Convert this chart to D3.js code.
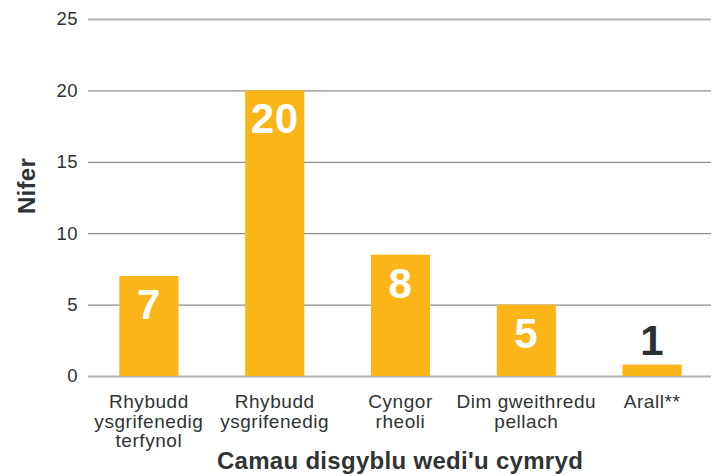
<!DOCTYPE html>
<html>
<head>
<meta charset="utf-8">
<script src="https://cdn.jsdelivr.net/npm/d3@7"></script>
<style>
    body { margin: 0; background: #fff; }
    svg { font-family: "Liberation Sans", Arial, Helvetica, sans-serif; }
</style>
</head>
<body>
<svg class="bar-chart"></svg>
<script>
// Daten
const categories = [
    ["Rhybudd", "ysgrifenedig", "terfynol"],
    ["Rhybudd", "ysgrifenedig"],
    ["Cyngor", "rheoli"],
    ["Dim gweithredu", "pellach"],
    ["Arall**"]
];
const values = [7, 20, 8.5, 5, 0.8];
const valueLabels = ["7", "20", "8", "5", "1"];
const yTicks = [0, 5, 10, 15, 20, 25];

const svgWidth = 715, svgHeight = 476;
const plotLeft = 86, plotRight = 715, plotTop = 19, plotBottom = 376;

const svg = d3.select(".bar-chart")
    .attr("width", svgWidth)
    .attr("height", svgHeight);

const x = d3.scaleBand()
    .domain(d3.range(categories.length))
    .range([plotLeft, plotRight])
    .paddingInner(0.53)
    .paddingOuter(0.265);

const y = d3.scaleLinear()
    .domain([0, 25])
    .range([plotBottom, plotTop]);

// Gitterlinien + Beschriftung
const yAxis = svg.append("g")
    .attr("transform", `translate(${plotLeft + 2},0)`)
    .call(d3.axisLeft(y).tickValues(yTicks).tickSize(-(711 - plotLeft - 2)).tickPadding(10));
yAxis.select(".domain").remove();
yAxis.selectAll(".tick line")
    .attr("stroke", d => (d === 0 || d === 25) ? "#b3b3b3" : "#8e8e8e")
    .attr("stroke-width", d => (d === 0 || d === 25) ? 2 : 1.3);
yAxis.selectAll(".tick text")
    .attr("font-size", 18.5)
    .attr("letter-spacing", 0.5)
    .attr("fill", "#2f3333")
    .attr("font-family", "Liberation Sans, Arial, sans-serif");

// Balken
svg.selectAll(".bar")
    .data(values)
    .enter()
    .append("rect")
    .attr("class", "bar")
    .attr("x", (d, i) => x(i))
    .attr("width", x.bandwidth())
    .attr("y", d => y(d))
    .attr("height", d => y(0) - y(d))
    .attr("fill", "#fbb519");

// Werte
svg.selectAll(".val")
    .data(values)
    .enter()
    .append("text")
    .attr("class", "val")
    .attr("x", (d, i) => x(i) + x.bandwidth() / 2)
    .attr("y", d => d < 3 ? y(d) - 10 : y(d) + 43)
    .attr("text-anchor", "middle")
    .attr("font-size", 42)
    .attr("letter-spacing", 0.5)
    .attr("font-weight", "bold")
    .attr("fill", d => d < 3 ? "#2b3030" : "#fff")
    .text((d, i) => valueLabels[i]);

// Kategorien (eine Zeile pro text-Element)
categories.forEach((lines, i) => {
    svg.selectAll(".cat" + i)
        .data(lines)
        .enter()
        .append("text")
        .attr("class", "cat" + i)
        .attr("x", x(i) + x.bandwidth() / 2)
        .attr("y", (d, j) => 408 + j * 19.5)
        .attr("text-anchor", "middle")
        .attr("font-size", 19)
        .attr("letter-spacing", 0.55)
        .attr("fill", "#2f3333")
        .text(d => d);
});

// Achsentitel
svg.append("text")
    .attr("x", 400)
    .attr("y", 469)
    .attr("text-anchor", "middle")
    .attr("font-size", 24)
    .attr("letter-spacing", 0.3)
    .attr("font-weight", "bold")
    .attr("fill", "#2f3333")
    .text("Camau disgyblu wedi'u cymryd");

svg.append("text")
    .attr("transform", "translate(35,186) rotate(-90)")
    .attr("text-anchor", "middle")
    .attr("font-size", 24)
    .attr("letter-spacing", 0.3)
    .attr("font-weight", "bold")
    .attr("fill", "#2f3333")
    .text("Nifer");
</script>
</body>
</html>
